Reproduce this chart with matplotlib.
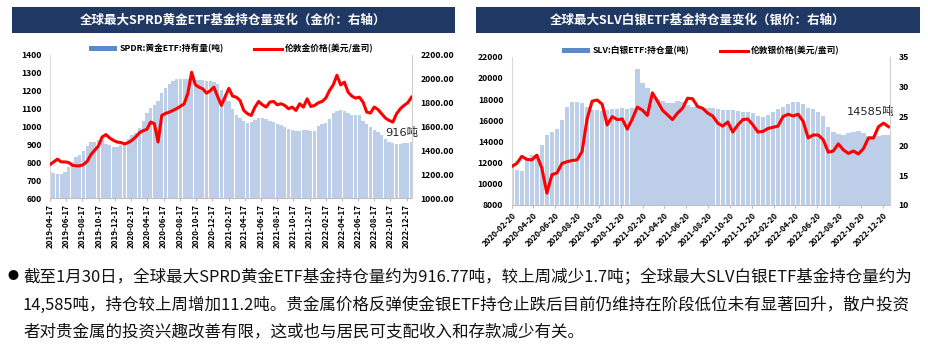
import matplotlib
matplotlib.use("Agg")
import matplotlib.pyplot as plt
from matplotlib.patches import Rectangle, Patch
from matplotlib.lines import Line2D
import pandas as pd

plt.rcParams['font.family'] = ['Noto Sans CJK SC', 'DejaVu Sans']

# ---------------- data ----------------
gold_start = '2019-04-17'
gold_holdings = [748, 742, 737, 735, 744, 776, 804, 828, 842, 864, 892, 916, 916, 926, 926, 901,
                 894, 888, 888, 898, 907, 930, 950, 965, 990, 1030, 1075, 1104, 1120, 1140, 1190,
                 1215, 1235, 1255, 1263, 1263, 1263, 1263, 1263, 1262, 1260, 1258, 1255, 1252,
                 1250, 1235, 1205, 1180, 1141, 1100, 1066, 1045, 1030, 1019, 1023, 1038, 1048,
                 1048, 1044, 1033, 1025, 1016, 1006, 997, 988, 982, 976, 976, 978, 982, 973, 973,
                 1001, 1014, 1019, 1044, 1076, 1089, 1094, 1089, 1076, 1063, 1066, 1063, 1033,
                 1014, 995, 982, 969, 950, 931, 916, 907, 903, 903, 905, 909, 916]
gold_price = [1281, 1303, 1326, 1303, 1303, 1298, 1275, 1270, 1270, 1281, 1309, 1365, 1401, 1437,
              1512, 1532, 1504, 1484, 1470, 1465, 1454, 1465, 1484, 1512, 1548, 1565, 1576, 1637,
              1624, 1470, 1693, 1710, 1720, 1735, 1750, 1770, 1790, 1880, 2055, 1950, 1930, 1916,
              1880, 1900, 1930, 1850, 1777, 1850, 1920, 1855, 1846, 1818, 1735, 1707, 1693, 1763,
              1810, 1782, 1763, 1805, 1810, 1782, 1791, 1777, 1749, 1763, 1735, 1791, 1763, 1832,
              1768, 1777, 1799, 1810, 1838, 1902, 1949, 2030, 1949, 1972, 1888, 1855, 1838, 1846,
              1805, 1721, 1713, 1763, 1743, 1707, 1671, 1651, 1637, 1707, 1749, 1777, 1799, 1846]

silver_start = '2020-02-20'
silver_holdings = [11615, 11300, 11200, 12244, 12714, 12780, 13660, 14600, 14854, 15170, 16000,
                   17275, 17745, 17685, 17600, 17250, 17000, 16950, 16900, 16950, 17100, 17100,
                   17150, 17100, 17120, 20800, 19500, 19000, 18300, 18000, 17810, 17600, 17590,
                   17810, 17750, 17430, 17275, 17370, 17119, 17119, 17119, 17024, 16960, 16960,
                   16960, 16900, 16804, 16804, 16647, 16426, 16332, 16490, 16804, 17056, 17276,
                   17496, 17748, 17748, 17496, 17119, 17056, 16804, 16426, 15389, 14854, 14665,
                   14602, 14760, 14917, 14980, 14760, 14540, 14540, 14560, 14575, 14585]
silver_price = [16.5, 17.0, 18.2, 17.7, 17.6, 18.4, 16.2, 12.0, 15.1, 15.4, 17.0, 17.3, 17.5, 17.6,
                19.0, 24.5, 27.5, 27.7, 27.0, 23.5, 24.9, 24.4, 24.5, 22.8, 24.5, 26.5, 26.0, 25.1,
                28.9, 27.5, 26.0, 25.2, 24.4, 25.5, 26.3, 28.0, 27.9, 26.6, 26.3, 25.5, 25.0, 23.8,
                23.3, 24.0, 22.3, 23.5, 24.4, 24.5, 23.5, 22.3, 22.4, 22.9, 23.1, 23.3, 24.9, 25.3,
                25.0, 25.3, 24.1, 21.3, 21.8, 21.8, 21.0, 18.9, 19.1, 20.3, 19.3, 18.7, 19.1, 18.6,
                19.5, 21.3, 21.3, 23.2, 23.8, 23.2]

gold_title = '全球最大SPRD黄金ETF基金持仓量变化（金价：右轴）'
silver_title = '全球最大SLV白银ETF基金持仓量变化（银价：右轴）'
gold_labels = ['SPDR:黄金ETF:持有量(吨)', '伦敦金价格(美元/盎司)']
silver_labels = ['SLV:白银ETF:持仓量(吨)', '伦敦银价格(美元/盎司)']
gold_note = '916吨'
silver_note = '14585吨'
body_lines = [
    '截至1月30日，全球最大SPRD黄金ETF基金持仓量约为916.77吨，较上周减少1.7吨；全球最大SLV白银ETF基金持仓量约为',
    '14,585吨，持仓较上周增加11.2吨。贵金属价格反弹使金银ETF持仓止跌后目前仍维持在阶段低位未有显著回升，散户投资',
    '者对贵金属的投资兴趣改善有限，这或也与居民可支配收入和存款减少有关。',
]

gold_dates = pd.date_range(gold_start, periods=len(gold_holdings), freq='14D')
silver_dates = pd.date_range(silver_start, periods=len(silver_holdings), freq='14D')
assert len(gold_price) == len(gold_holdings)
assert len(silver_price) == len(silver_holdings)

# ---------------- figure ----------------
W, H = 929, 351
fig = plt.figure(figsize=(W / 100, H / 100), dpi=100)

def fx(px):
    return px / W

def fy(py):
    return 1 - py / H

NAVY = '#1F3864'
BAR = '#BDCFE8'
BAR_LEG = '#5B8AC8'
RED = '#FF0000'
TICK_FS = 6.2

# title bars
for (x0, x1, title) in [(12, 455, gold_title), (476, 920, silver_title)]:
    fig.patches.append(Rectangle((fx(x0), fy(33)), fx(x1) - fx(x0), fy(7) - fy(33),
                                 transform=fig.transFigure, facecolor=NAVY, edgecolor='none'))
    fig.text(fx((x0 + x1) / 2), fy(20), title, color='white', fontsize=9,
             fontweight='bold', ha='center', va='center')


def make_panel(rect, dates, hold, price, ylim1, yticks1, ylim2, yticks2, fmt2,
               xticks, rot, labels, xend, note, note_off):
    ax = fig.add_axes(rect)
    step = (dates[1] - dates[0]).days
    ax.bar(dates, hold, width=step * 0.88, color=BAR, edgecolor='none', zorder=2)
    ax.set_ylim(*ylim1)
    ax.set_yticks(yticks1)
    ax.set_xlim(dates[0], pd.Timestamp(xend))
    ax2 = ax.twinx()
    ax2.plot(dates, price, color=RED, lw=2.2, solid_joinstyle='round', zorder=3)
    ax2.set_ylim(*ylim2)
    ax2.set_yticks(yticks2)
    ax2.set_yticklabels([fmt2.format(v) for v in yticks2])
    ax2.set_xlim(dates[0], pd.Timestamp(xend))

    for a in (ax, ax2):
        for s in a.spines.values():
            s.set_visible(False)
    ax.spines['left'].set_visible(True)
    ax.spines['left'].set_color('#D9D9D9')
    ax.spines['bottom'].set_visible(True)
    ax.spines['bottom'].set_color('#BFBFBF')
    ax2.spines['right'].set_visible(True)
    ax2.spines['right'].set_color('#D0D0D0')

    ax.set_xticks(xticks)
    if rot == 90:
        ax.set_xticklabels([d.strftime('%Y-%m-%d') for d in xticks], rotation=90,
                           ha='center', va='top')
    else:
        ax.set_xticklabels([d.strftime('%Y-%m-%d') for d in xticks], rotation=45,
                           ha='right', va='top', rotation_mode='anchor')
    ax.tick_params(axis='x', length=2.5, color='#BFBFBF', labelsize=5.8, pad=2)
    ax.tick_params(axis='y', length=0, labelsize=TICK_FS, pad=6)
    ax2.tick_params(axis='y', length=0, labelsize=TICK_FS, pad=6)
    for lab in ax.get_yticklabels() + ax2.get_yticklabels():
        lab.set_fontweight('bold')
    for lab in ax.get_xticklabels():
        lab.set_fontweight('bold')

    handles = [Patch(facecolor=BAR_LEG, edgecolor='none'),
               Line2D([0], [0], color=RED, lw=2.2)]
    ax.legend(handles, labels, loc='lower center', bbox_to_anchor=(0.5, 0.985),
              ncol=2, frameon=False, handlelength=3.2,
              handleheight=0.55, columnspacing=3.5, handletextpad=0.3,
              borderaxespad=0.0, prop={'weight': 'bold', 'size': 6.3})
    ax.annotate(note, xy=(dates[-1], hold[-1]), xycoords='data',
                xytext=note_off, textcoords='offset pixels', fontsize=8.2,
                ha='right', va='bottom', color='#222222', zorder=5,
                family=['DejaVu Sans', 'Noto Sans CJK SC'])
    return ax, ax2


gold_xt = pd.date_range('2019-04-17', '2022-12-17', freq=pd.DateOffset(months=2))
silver_xt = pd.date_range('2020-02-20', '2022-12-20', freq=pd.DateOffset(months=2))

make_panel([fx(50), fy(198), fx(412) - fx(50), fy(55) - fy(198)],
           gold_dates, gold_holdings, gold_price,
           (600, 1400), list(range(600, 1401, 100)),
           (1000, 2200), list(range(1000, 2201, 200)), '{:.2f}',
           gold_xt, 90, gold_labels, '2023-01-06', gold_note, (7, 4))

make_panel([fx(511.7), fy(205), fx(890) - fx(511.7), fy(56.7) - fy(205)],
           silver_dates, silver_holdings, silver_price,
           (8000, 22000), list(range(8000, 22001, 2000)),
           (10, 35), list(range(10, 36, 5)), '{:d}',
           silver_xt, 45, silver_labels, '2023-01-09', silver_note, (6, 18))

# body text
fig.text(fx(13), fy(276.5), '●', fontsize=8, ha='center', va='center', color='black')
for y, line in zip([276.5, 305, 332], body_lines):
    fig.text(fx(23), fy(y), line, fontsize=11.9, ha='left', va='center', color='#111111')

fig.savefig('out.png', dpi=100)
